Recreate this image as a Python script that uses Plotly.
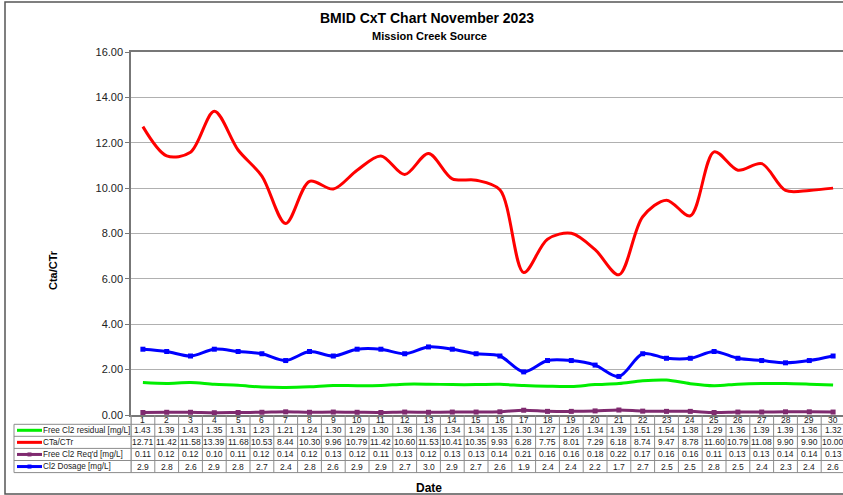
import plotly.graph_objects as go

days = list(range(1, 31))
free_cl2 = [1.43, 1.39, 1.43, 1.35, 1.31, 1.23, 1.21, 1.24, 1.30, 1.29, 1.30, 1.36, 1.36, 1.34, 1.34,
            1.35, 1.30, 1.27, 1.26, 1.34, 1.39, 1.51, 1.54, 1.38, 1.29, 1.36, 1.39, 1.39, 1.36, 1.32]
ct_ratio = [12.71, 11.42, 11.58, 13.39, 11.68, 10.53, 8.44, 10.30, 9.96, 10.79, 11.42, 10.60, 11.53, 10.41, 10.35,
            9.93, 6.28, 7.75, 8.01, 7.29, 6.18, 8.74, 9.47, 8.78, 11.60, 10.79, 11.08, 9.90, 9.90, 10.00]
cl2_reqd = [0.11, 0.12, 0.12, 0.10, 0.11, 0.12, 0.14, 0.12, 0.13, 0.12, 0.11, 0.13, 0.12, 0.13, 0.13,
            0.14, 0.21, 0.16, 0.16, 0.18, 0.22, 0.17, 0.16, 0.16, 0.11, 0.13, 0.13, 0.14, 0.14, 0.13]
dosage = [2.9, 2.8, 2.6, 2.9, 2.8, 2.7, 2.4, 2.8, 2.6, 2.9, 2.9, 2.7, 3.0, 2.9, 2.7,
          2.6, 1.9, 2.4, 2.4, 2.2, 1.7, 2.7, 2.5, 2.5, 2.8, 2.5, 2.4, 2.3, 2.4, 2.6]

series = [
    ("Free Cl2 residual [mg/L]", free_cl2, "#00ee00", False, "{:.2f}"),
    ("CTa/CTr", ct_ratio, "#ff0000", False, "{:.2f}"),
    ("Free Cl2 Req'd [mg/L]", cl2_reqd, "#7f2a6f", True, "{:.2f}"),
    ("Cl2 Dosage [mg/L]", dosage, "#0000ff", True, "{:.1f}"),
]

FONT = "Liberation Sans, Arial, sans-serif"
L, R, T, B = 131, 843, 52, 415
W, H = R - L, B - T


def px(x):
    return (x - L) / W


def py(y):
    return (B - y) / H


def label(x, y, text, size=8.5, xref="paper", xanchor="center", **kw):
    return dict(x=x, y=y, xref=xref, yref="paper", text=text, showarrow=False,
                xanchor=xanchor, yanchor="middle",
                font=dict(size=size, color=kw.pop("color", "#222222"), family=FONT), **kw)


fig = go.Figure()
for name, vals, color, mark, fmt in series:
    fig.add_trace(go.Scatter(
        x=days, y=vals, name=name, mode="lines+markers" if mark else "lines",
        line=dict(color=color, width=3, shape="spline", smoothing=0.9),
        marker=dict(size=5, color=color, symbol="square"),
        showlegend=False))

shapes = []
ann = []
# outer frame
shapes.append(dict(type="rect", xref="paper", yref="paper", x0=px(5), x1=px(860), y0=py(494), y1=py(2),
                   line=dict(color="#555555", width=1.5), layer="below"))

# data table
row_top = [424.3, 436.3, 448.4, 460.5]
row_bot = 472.6
for x0 in [d - 0.5 for d in days] + [30.5]:
    shapes.append(dict(type="line", xref="x", yref="paper", x0=x0, x1=x0, y0=py(B), y1=py(row_bot),
                       line=dict(color="#8c8c8c", width=1)))
for yy in row_top + [row_bot]:
    shapes.append(dict(type="line", xref="paper", yref="paper", x0=px(14), x1=px(860), y0=py(yy), y1=py(yy),
                       line=dict(color="#8c8c8c", width=1)))
shapes.append(dict(type="line", xref="paper", yref="paper", x0=px(14), x1=px(14), y0=py(row_top[0]), y1=py(row_bot),
                   line=dict(color="#8c8c8c", width=1)))
shapes.append(dict(type="line", xref="paper", yref="paper", x0=px(L), x1=px(L), y0=py(B), y1=py(row_bot),
                   line=dict(color="#8c8c8c", width=1)))

for d in days:
    ann.append(label(d, py(419.6), str(d), xref="x"))

for i, (name, vals, color, mark, fmt) in enumerate(series):
    yc = (row_top[i] + (row_top[i + 1] if i < 3 else row_bot)) / 2
    shapes.append(dict(type="line", xref="paper", yref="paper", x0=px(17), x1=px(42), y0=py(yc), y1=py(yc),
                       line=dict(color=color, width=3)))
    if mark:
        shapes.append(dict(type="rect", xref="paper", yref="paper", x0=px(27.5), x1=px(31.5),
                           y0=py(yc + 2), y1=py(yc - 2), fillcolor=color, line=dict(width=0)))
    ann.append(label(px(41), py(yc), name, size=8.2, xanchor="left"))
    for d, v in zip(days, vals):
        ann.append(label(d, py(yc), fmt.format(v), xref="x"))

ann.append(label(px(427), py(18), "<b>BMID CxT Chart November 2023</b>", size=14, color="#000000"))
ann.append(label(px(429), py(36), "<b>Mission Creek Source</b>", size=11, color="#000000"))
ann.append(label(px(53), py(270), "<b>Cta/CTr</b>", size=11, color="#000000", textangle=-90))
ann.append(label(px(429), py(488), "<b>Date</b>", size=12, color="#000000"))

fig.update_layout(
    width=843, height=495,
    margin=dict(l=L, r=843 - R, t=T, b=495 - B),
    paper_bgcolor="white", plot_bgcolor="white",
    font=dict(family=FONT, color="#222222"),
    shapes=shapes, annotations=ann,
    xaxis=dict(range=[0.5, 30.416], showticklabels=False, showgrid=False, zeroline=False,
               showline=True, mirror=True, linecolor="#777777", linewidth=1.5, fixedrange=True),
    yaxis=dict(range=[0, 16], dtick=2, tickformat=".2f", showgrid=True, gridcolor="#b0b0b0",
               zeroline=False, showline=True, linecolor="#777777", linewidth=1.5,
               ticks="outside", ticklen=4, tickcolor="#777777",
               tickfont=dict(size=11, color="#222222", family=FONT)),
)

# drop the page's default body margin so the figure sits at the window's corner
fig.write_html("out.html", config={"displayModeBar": False},
               post_script="document.body.style.margin='0';")
